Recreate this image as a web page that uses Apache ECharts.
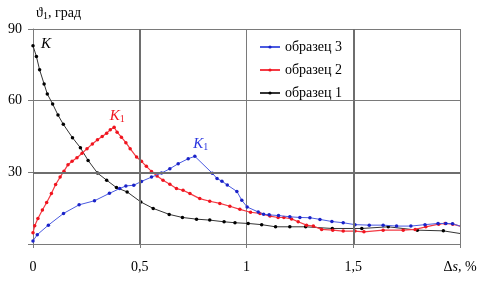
<!DOCTYPE html>
<html>
<head>
<meta charset="utf-8">
<script src="https://cdn.jsdelivr.net/npm/echarts@6.0.0/dist/echarts.min.js"></script>
<style>html,body{margin:0;padding:0;background:#fff;}#c{width:490px;height:286px;}</style>
</head>
<body>
<div id="c"></div>
<script>
// образец 1 (black)
const x1 = [0, 0.016, 0.031, 0.052, 0.067, 0.092, 0.117, 0.142, 0.185, 0.222, 0.258, 0.302, 0.345, 0.391, 0.441, 0.505, 0.563, 0.638, 0.700, 0.766, 0.828, 0.895, 0.946, 1.008, 1.071, 1.136, 1.203, 1.277, 1.402, 1.540, 1.664, 1.800, 1.922, 2.0];
const y1 = [83, 78.5, 72.9, 67, 62.8, 58.6, 54, 50.1, 44.5, 40.3, 35, 29.7, 26.7, 23.6, 21.8, 17.6, 14.9, 12.4, 11.1, 10.4, 10, 9.3, 8.9, 8.6, 8.1, 7.2, 7.2, 7.2, 6.5, 6.5, 7.2, 5.8, 5.5, 4.4];
// образец 2 (red)
const x2 = [0, 0.008, 0.023, 0.044, 0.064, 0.086, 0.106, 0.127, 0.145, 0.164, 0.183, 0.206, 0.23, 0.253, 0.278, 0.302, 0.324, 0.345, 0.362, 0.38, 0.394, 0.414, 0.435, 0.455, 0.485, 0.508, 0.531, 0.555, 0.581, 0.609, 0.641, 0.672, 0.703, 0.735, 0.781, 0.828, 0.875, 0.922, 0.969, 1.019, 1.063, 1.11, 1.148, 1.175, 1.211, 1.242, 1.281, 1.313, 1.352, 1.404, 1.453, 1.508, 1.55, 1.64, 1.734, 1.79, 1.84, 1.9, 1.93, 1.966, 2.0];
const y2 = [4.7, 7.6, 10.7, 14.2, 17.4, 21.1, 24.9, 28, 30.5, 33.2, 34.6, 36.1, 38, 39.9, 41.9, 43.6, 45, 46.4, 47.8, 48.9, 46.8, 44.7, 42.4, 39.9, 36.4, 34.6, 32.5, 30.4, 28.5, 26.7, 25, 23.2, 22.5, 21.1, 19, 17.9, 17, 15.8, 14.5, 13.3, 12.8, 11.7, 11.1, 11.1, 10.5, 9.3, 7.9, 7.5, 6.1, 5.8, 5.4, 5.4, 5.1, 5.8, 5.8, 6.1, 7.2, 8.3, 8.6, 8.3, 7.5];
// образец 3 (blue)
const x3 = [0, 0.02, 0.072, 0.143, 0.216, 0.288, 0.358, 0.406, 0.435, 0.472, 0.508, 0.555, 0.602, 0.641, 0.68, 0.727, 0.758, 0.84, 0.862, 0.885, 0.91, 0.955, 0.978, 1.003, 1.055, 1.08, 1.106, 1.15, 1.203, 1.25, 1.297, 1.344, 1.40, 1.453, 1.508, 1.575, 1.64, 1.703, 1.77, 1.836, 1.897, 1.934, 1.965, 2.0];
const y3 = [1.3, 3.9, 7.9, 12.8, 16.4, 18.1, 21.2, 23.2, 24.3, 24.6, 26.2, 28, 29.7, 31.5, 33.6, 35.7, 36.7, 29.6, 27.4, 26.3, 24.7, 22, 18.3, 15.5, 13.4, 12.5, 12.2, 11.9, 11.4, 11.1, 11, 10.3, 9.4, 8.9, 8.1, 7.9, 7.9, 7.5, 7.5, 8.1, 8.6, 8.6, 8.5, 7.5];

const names = ['образец 3', 'образец 2', 'образец 1'];
const xTicks = {0: '0', 0.5: '0,5', 1: '1', 1.5: '1,5'};
const yTicks = {30: '30', 60: '60', 90: '90'};

function zip(xs, ys) {
  return xs.map((x, i) => {
    const item = {value: [x, ys[i]]};
    if (i === xs.length - 1 && x >= 2) item.symbolSize = 0;
    return item;
  });
}

const serif = 'Liberation Serif, Times New Roman, serif';
const gridColor = '#7a7a7a';

const chart = echarts.init(document.getElementById('c'), null, {renderer: 'canvas'});

function kLabel(color, sub) {
  return {
    show: true,
    formatter: sub ? '{k|K}{s|1}' : '{k|K}',
    rich: {
      k: {fontFamily: serif, fontStyle: 'italic', fontSize: 15, color: color},
      s: {fontFamily: serif, fontSize: 10, color: color, verticalAlign: 'bottom', padding: [6, 0, 0, 0]}
    }
  };
}

chart.setOption({
  animation: false,
  grid: {left: 33, top: 29, right: 30, bottom: 42},
  legend: {
    data: names,
    orient: 'vertical',
    left: 254,
    top: 35,
    itemGap: 9,
    itemWidth: 20,
    itemHeight: 4,
    textStyle: {fontFamily: serif, fontSize: 14, color: '#000'}
  },
  xAxis: {
    type: 'value', min: 0, max: 2, interval: 0.5,
    axisLine: {show: true, lineStyle: {color: gridColor, width: 1}},
    axisTick: {show: true, length: 4, lineStyle: {color: gridColor}},
    splitLine: {show: true, lineStyle: {color: gridColor, width: 1}},
    axisLabel: {
      margin: 16,
      fontFamily: serif, fontSize: 14, color: '#000',
      formatter: v => (v >= 2 ? '{d|Δ}{i|s}{d|, %}' : (xTicks[v] !== undefined ? xTicks[v] : '')),
      rich: {
        d: {fontFamily: serif, fontSize: 14, color: '#000'},
        i: {fontFamily: serif, fontSize: 14, fontStyle: 'italic', color: '#000'}
      }
    }
  },
  yAxis: {
    type: 'value', min: 0, max: 90, interval: 30,
    axisLine: {show: true, lineStyle: {color: gridColor, width: 1}},
    axisTick: {show: true, length: 5, lineStyle: {color: gridColor}},
    splitLine: {show: true, lineStyle: {color: gridColor, width: 1}},
    axisLabel: {
      margin: 11,
      fontFamily: serif, fontSize: 14, color: '#000',
      formatter: v => (yTicks[v] !== undefined ? yTicks[v] : '')
    }
  },
  graphic: [{
    type: 'text', left: 36, top: 6,
    style: {
      text: '{a|ϑ}{s|1}{a|, град}',
      rich: {
        a: {fontFamily: serif, fontSize: 14, fill: '#000'},
        s: {fontFamily: serif, fontSize: 10, fill: '#000', padding: [6, 0, 0, 0]}
      }
    }
  }],
  series: [
    {
      name: 'образец 3', type: 'line', data: zip(x3, y3),
      symbol: 'circle', symbolSize: 3.5,
      itemStyle: {color: '#1a22c8'},
      lineStyle: {color: '#4a5ae0', width: 1},
      z: 4,
      markPoint: {
        symbol: 'circle', symbolSize: 0, silent: true,
        data: [{coord: [0.758, 36.7], label: Object.assign(kLabel('#2a36e0', true), {offset: [6, -12]})}]
      }
    },
    {
      name: 'образец 2', type: 'line', data: zip(x2, y2),
      symbol: 'circle', symbolSize: 3.5,
      itemStyle: {color: '#f0141e'},
      lineStyle: {color: '#f43a44', width: 1.2},
      z: 3,
      markPoint: {
        symbol: 'circle', symbolSize: 0, silent: true,
        data: [{coord: [0.38, 48.9], label: Object.assign(kLabel('#f0141e', true), {offset: [3, -11]})}]
      }
    },
    {
      name: 'образец 1', type: 'line', data: zip(x1, y1),
      symbol: 'circle', symbolSize: 3.5,
      itemStyle: {color: '#000'},
      lineStyle: {color: '#333', width: 1},
      z: 2,
      markPoint: {
        symbol: 'circle', symbolSize: 0, silent: true,
        data: [{coord: [0, 83], label: Object.assign(kLabel('#000', false), {offset: [13, -2]})}]
      },
      markLine: {
        silent: true, symbol: ['none', 'none'],
        label: {show: false},
        lineStyle: {type: 'solid', width: 2, color: '#6e6e6e'},
        emphasis: {disabled: true},
        data: [{xAxis: 0.5}, {xAxis: 1.5}, {yAxis: 30}]
      }
    }
  ]
});
</script>
</body>
</html>
